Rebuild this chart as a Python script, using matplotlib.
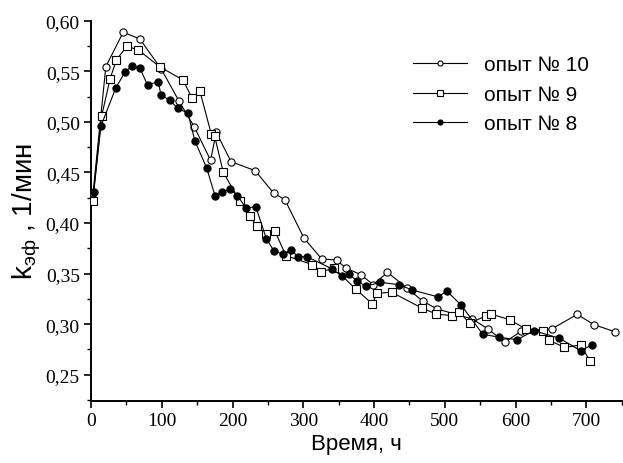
import matplotlib
matplotlib.use("Agg")
import matplotlib.pyplot as plt
from matplotlib.ticker import MultipleLocator, FuncFormatter

# опыт № 10 (open circles)
x10 = [3, 21, 45.5, 69, 99.5, 124, 146, 169, 177, 198, 232, 258, 274, 301, 326, 347,
       360, 381, 399, 419, 447, 469, 489, 539, 561, 584.5, 608, 651, 687, 711, 740]
y10 = [0.430, 0.5545, 0.5885, 0.582, 0.552, 0.521, 0.495, 0.462, 0.4896, 0.4606, 0.4517,
       0.4296, 0.423, 0.385, 0.3644, 0.3634, 0.3555, 0.349, 0.339, 0.3512, 0.3354, 0.3226,
       0.315, 0.305, 0.2952, 0.282, 0.293, 0.2952, 0.3096, 0.2994, 0.2925]

# опыт № 9 (open squares)
x9 = [2.3, 15, 27, 36, 51, 67, 97, 130, 143, 154, 170, 174.6, 187, 210, 225, 234, 248,
      260, 275.5, 313, 325, 344, 374, 397.6, 404, 425, 468, 488, 510, 520, 535, 558.6,
      565, 591.5, 614.5, 638.5, 646.5, 669, 692.5, 705]
y9 = [0.4214, 0.5055, 0.5424, 0.5615, 0.5747, 0.571, 0.5545, 0.5414, 0.5233, 0.530,
      0.488, 0.4863, 0.450, 0.422, 0.4072, 0.3967, 0.389, 0.3918, 0.3677, 0.3588, 0.3518,
      0.3552, 0.3347, 0.320, 0.3305, 0.3315, 0.3157, 0.310, 0.3083, 0.3123, 0.3008,
      0.3083, 0.310, 0.3044, 0.2952, 0.2935, 0.2843, 0.277, 0.2794, 0.2632]

# опыт № 8 (filled circles)
x8 = [4, 14, 35, 48, 58, 69, 80, 95, 99, 111, 122.5, 137, 147, 163.5, 175.5, 185, 197,
      207, 219, 233, 248, 259, 272, 282, 293, 305, 341, 354.5, 364, 375.6, 388, 409, 435,
      454, 490, 503, 523, 553.5, 577, 602, 626, 662, 692, 707.5]
y8 = [0.431, 0.4956, 0.5334, 0.549, 0.5555, 0.5532, 0.5364, 0.5397, 0.5265, 0.5216,
      0.5134, 0.5085, 0.4808, 0.4544, 0.4264, 0.431, 0.4333, 0.427, 0.4148, 0.416, 0.384,
      0.372, 0.3693, 0.3733, 0.3667, 0.3667, 0.3545, 0.3474, 0.3496, 0.343, 0.3374,
      0.3413, 0.339, 0.3337, 0.327, 0.3325, 0.3189, 0.290, 0.287, 0.2846, 0.2935, 0.286,
      0.2737, 0.2794]

labels = ["опыт № 10", "опыт № 9", "опыт № 8"]
xticks = [0, 100, 200, 300, 400, 500, 600, 700]
yticks = [0.25, 0.30, 0.35, 0.40, 0.45, 0.50, 0.55, 0.60]

plt.rcParams['mathtext.fontset'] = 'custom'
plt.rcParams['mathtext.rm'] = 'Liberation Sans'
plt.rcParams['mathtext.it'] = 'Liberation Sans'

fig = plt.figure(figsize=(6.23, 4.64), dpi=100)
ax = fig.add_axes([0.146, 0.1343, 0.852, 0.8190])

lw = 0.8
ms = 5.2
ax.plot(x10, y10, '-', color='black', lw=lw, marker='o', ms=ms, mfc='white',
        mec='black', mew=0.8, label=labels[0], zorder=3)
ax.plot(x9, y9, '-', color='black', lw=lw, marker='s', ms=ms, mfc='white',
        mec='black', mew=0.8, label=labels[1], zorder=3)
ax.plot(x8, y8, '-', color='black', lw=lw, marker='o', ms=ms, mfc='black',
        mec='black', mew=0.8, label=labels[2], zorder=3)

ax.set_xlim(0, 750)
ax.set_ylim(0.2243, 0.60)
ax.set_xticks(xticks)
ax.set_yticks(yticks)
ax.xaxis.set_minor_locator(MultipleLocator(50))
ax.yaxis.set_minor_locator(MultipleLocator(0.025))
ax.yaxis.set_major_formatter(FuncFormatter(lambda v, p: f"{v:.2f}".replace('.', ',')))

for s in ['top', 'right']:
    ax.spines[s].set_visible(False)
for s in ['left', 'bottom']:
    ax.spines[s].set_linewidth(1.4)

ax.tick_params(which='major', direction='out', length=5, width=1.2,
               labelsize=14, pad=3)
ax.tick_params(which='minor', direction='out', length=3, width=1.0)
for lab in ax.get_xticklabels() + ax.get_yticklabels():
    lab.set_fontfamily('Liberation Serif')

ax.set_xlabel("Время, ч", fontsize=16, family='Liberation Sans', labelpad=3)
ax.set_ylabel(r"k$_{\mathregular{эф}}$ , 1/мин", fontsize=20,
              family='Liberation Sans', labelpad=2)

leg = ax.legend(loc='upper left', bbox_to_anchor=(0.571, 0.958), frameon=False,
                prop={'family': 'Liberation Sans', 'size': 15},
                handlelength=2.6, handletextpad=0.8, labelspacing=0.5,
                markerscale=0.7)

fig.savefig("out.png", dpi=100)
